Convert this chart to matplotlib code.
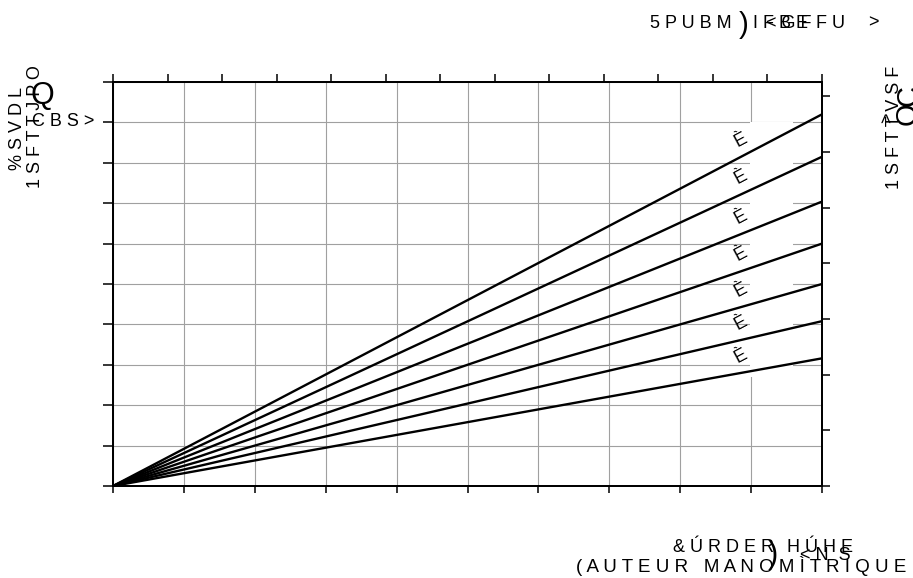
import matplotlib

matplotlib.use("Agg")
import matplotlib.pyplot as plt
from matplotlib.patches import Rectangle

plt.rcParams["font.family"] = ["Liberation Sans", "DejaVu Sans"]

W, H = 913, 578

# curve end values (left-axis units at the right edge, x = 10)
curve_ends = [9.20, 8.15, 7.04, 6.00, 5.00, 4.08, 3.16]
curve_labels = ["È"] * len(curve_ends)
x_range = [0, 10]
bottom_ticks = list(range(0, 11))
left_ticks = list(range(0, 11))
top_ticks = list(range(0, 14))
right_ticks = list(range(0, 8))
label_x = 8.86

fig = plt.figure(figsize=(W / 100, H / 100), dpi=100)
ax = fig.add_axes([113 / W, 1 - 486 / H, (822 - 113) / W, (486 - 82) / H])
ax.set_xlim(0, 10)
ax.set_ylim(0, 10)
ax.set_xticks(bottom_ticks)
ax.set_yticks(left_ticks)
ax.set_xticklabels([])
ax.set_yticklabels([])
ax.set_axisbelow(True)
ax.grid(True, color="#a0a0a0", lw=0.8)
ax.tick_params(axis="x", direction="out", length=5, width=1.1)
ax.tick_params(axis="y", direction="out", length=7, width=1.1)
for s in ax.spines.values():
    s.set_linewidth(1.2)

# white strip behind the curve labels hides the grid there
ax.add_patch(Rectangle((8.99, 2.7), 0.6, 6.32, facecolor="white",
                       edgecolor="none", zorder=1))

for end, lab in zip(curve_ends, curve_labels):
    ax.plot(x_range, [0, end], color="black", lw=1.7, zorder=2,
            solid_capstyle="butt")
    ax.annotate(lab, (label_x, end * label_x / 10), xytext=(0, 12),
                textcoords="offset points", ha="center", va="center",
                rotation=28, fontsize=13, zorder=3)

top = ax.twiny()
top.set_xlim(0, 13)
top.set_xticks(top_ticks)
top.set_xticklabels([])
top.tick_params(axis="x", direction="out", length=6, width=1.1)

right = ax.twinx()
right.set_ylim(0, 10 * 40.4 / 55.7)
right.set_yticks(right_ticks)
right.set_yticklabels([])
right.tick_params(axis="y", direction="out", length=6, width=1.1)
for a in (top, right):
    for s in a.spines.values():
        s.set_linewidth(1.2)


def put(s, x, y, size=13, rot=0, ha="left", va="center"):
    fig.text(x / W, 1 - y / H, s, fontsize=size, rotation=rot, ha=ha, va=va)


# header (top right)
put("5 P U B M", 650, 23)
put(")", 744, 25, size=21, ha="center")
put("I F B E", 753, 23)
put("< G F", 766, 23)
put("F U", 816, 23)
put(">", 868, 23)

# left axis title
put("% S V D L", 18, 128, rot=90, ha="center")
put("1 S F T T J P O", 36, 127, rot=90, ha="center")
put("Q", 42, 96, size=22, ha="center")
put("C B S >", 32, 122)

# right axis title
put("1 S F T T V S F", 894, 127, rot=90, ha="center")
put(">", 888, 118, rot=90, ha="center")
put("C", 908, 95, size=21, rot=90, ha="center")
put("Q", 908, 114, size=21, rot=90, ha="center")

# x axis title
put("& Ú R D E R", 673, 548)
put(")", 773, 555, size=22, ha="center")
put("H Ú H E", 787, 548)
put("< N  S", 800, 556)
put("( A U T E U R   M A N O M Ì T R I Q U E", 576, 566, size=13.5)

fig.savefig("out.png", dpi=100)
